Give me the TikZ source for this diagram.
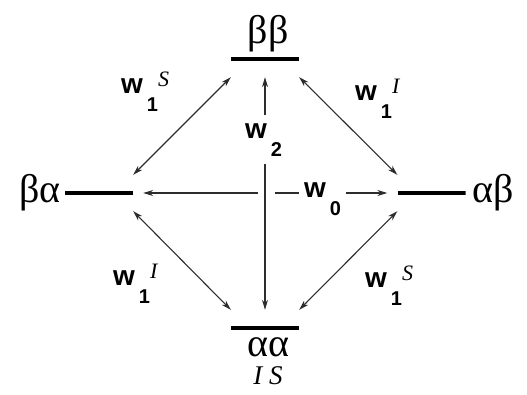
\documentclass[tikz,border=0pt]{standalone}
\usepackage{fontspec}
\setmainfont{Liberation Serif}
\setsansfont{Liberation Sans}
\usetikzlibrary{arrows.meta, positioning, calc}
\definecolor{linegray}{RGB}{45,45,45}
\newcommand{\rate}[2]{{\fontsize{28}{28}\selectfont\sffamily\bfseries w}\kern4pt\raisebox{-18pt}{\fontsize{20}{20}\selectfont\sffamily\bfseries #1}\raisebox{7pt}{\fontsize{22}{22}\selectfont\itshape #2}}

\begin{document}
\begin{tikzpicture}[
          x=1pt, y=-1pt,
          level/.style={minimum width=68pt, minimum height=36pt, inner sep=0pt,
                        path picture={\draw[line width=3.2pt]
                          (path picture bounding box.west) -- (path picture bounding box.east);}},
          greek/.style={inner sep=0pt, font=\fontsize{40}{40}\selectfont},
          spin/.style={inner sep=0pt, font=\fontsize{27}{27}\selectfont\itshape},
          rate/.style={inner sep=0pt, anchor=base west},
          arr/.style={-{Stealth[length=10pt, width=6pt]}, line width=1.1pt, draw=linegray},
          darr/.style={{Stealth[length=10pt, width=6pt]}-{Stealth[length=10pt, width=6pt]},
                       line width=1.1pt, draw=linegray}
        ]
        \useasboundingbox (0,0) rectangle (527,394);
        \node[level] (bb) at (265,59) {};
        \node[level] (ba) at (99,193) {};
        \node[level] (ab) at (431.5,193) {};
        \node[level] (aa) at (265,328) {};
        \node[greek, above=-11pt of bb, xshift=3pt] (bbt) {ββ};
        \node[greek, left=4pt of ba] (bat) {βα};
        \node[greek, right=7pt of ab] (abt) {αβ};
        \node[greek, below=-9pt of aa, xshift=3pt] (aat) {αα};
        \node[spin, below=10pt of aat] (is) {I~S};
        \node[rate] (ul) at (121,93) {\rate{1}{S}};
        \node[rate] (ur) at (355,100) {\rate{1}{I}};
        \node[rate] (ll) at (113,285) {\rate{1}{I}};
        \node[rate] (lr) at (365,287) {\rate{1}{S}};
        \node[rate, inner ysep=8pt] (w2) at (245,138) {\rate{2}{}};
        \node[rate, inner xsep=5pt] (w0) at (299,197) {\rate{0}{}};
        \coordinate (gapl) at (258,193);
        \coordinate (gapr) at (275,193);
        \draw[darr] (bb.south west) -- (ba.north east);
        \draw[darr] (bb.south east) -- (ab.north west);
        \draw[darr] (ba.south east) -- (aa.north west);
        \draw[darr] (ab.south west) -- (aa.north east);
        \draw[arr] (w2.north -| bb.south) -- (bb.south);
        \draw[arr] (w2.south -| aa.north) -- (aa.north);
        \draw[arr, shorten >=10pt] (gapl) -- (ba.east);
        \draw[draw=linegray, line width=1.1pt] (gapr) -- (w0.west |- gapr);
        \draw[arr, shorten >=10pt] (w0.east |- gapr) -- (ab.west);
      \end{tikzpicture}
\end{document}
